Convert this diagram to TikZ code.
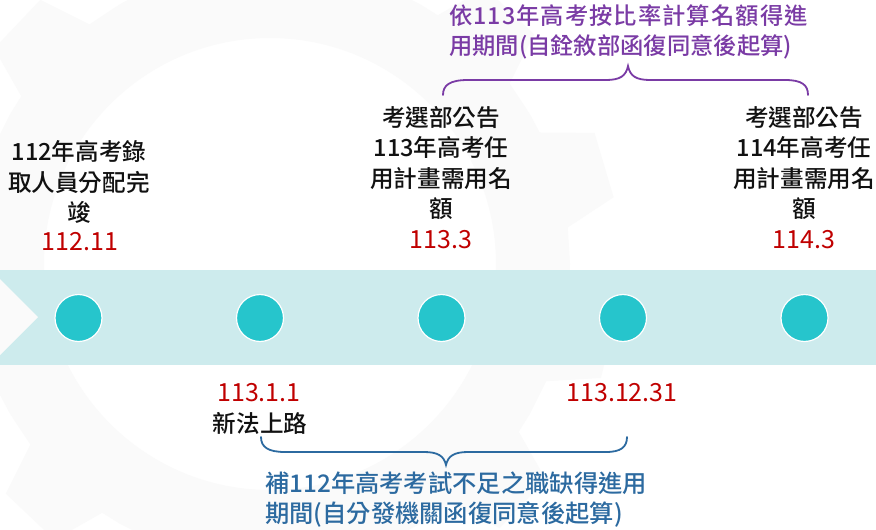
\documentclass[tikz,border=0pt]{standalone}
\usepackage{fontspec}
\setmainfont{Noto Sans CJK TC}[BoldFont={Noto Sans CJK TC Medium}]
\definecolor{bandcol}{HTML}{CDEBED}
\definecolor{dotcol}{HTML}{26C5CC}
\definecolor{datered}{HTML}{C00000}
\definecolor{txtblack}{HTML}{111111}
\definecolor{purplecol}{HTML}{7A3BA5}
\definecolor{bluecol}{HTML}{2C6AA0}
\definecolor{gearcol}{HTML}{FAFAFA}
\tikzset{
  dot/.style={circle, fill=dotcol, draw=white, line width=1.2pt, minimum size=47pt, inner sep=0pt},
  blk/.style={align=center, font=\bfseries\fontsize{23.6}{30.5}\selectfont, inner sep=0pt, text=txtblack},
  datelbl/.style={font=\fontsize{25}{28}\selectfont, inner sep=0pt, text=datered},
  purpletxt/.style={align=left, font=\bfseries\fontsize{23.3}{30}\selectfont, inner sep=0pt, text=purplecol},
  bluetxt/.style={align=left, font=\bfseries\fontsize{24.3}{30}\selectfont, inner sep=0pt, text=bluecol},
  bracepurple/.style={draw=purplecol, line width=1.8pt, line cap=round},
  braceblue/.style={draw=bluecol, line width=1.8pt, line cap=round}
}
\begin{document}
\begin{tikzpicture}[x=1pt, y=-1pt]
\useasboundingbox (0,0) rectangle (876,530);
\fill[white] (0,0) rectangle (876,530);
% faint background gear
\begin{scope}
\clip (0,0) rectangle (876,530);
\begin{scope}[shift={(270,264)}]
\fill[gearcol, even odd rule] (0,0) circle[radius=226pt]
  (0:300) \foreach \a in {0,30,...,330}{ -- (\a+4:300) -- (\a+8:350) -- (\a+19:350) -- (\a+23:300) -- (\a+30:300)} -- cycle;
\end{scope}
\end{scope}
% band
\fill[bandcol] (0,270) rectangle (876,365);
\fill[gearcol] (0,279) -- (38,317) -- (0,355) -- cycle;
% dots
\node[dot] (d1) at (78.5,318) {};
\node[dot] (d2) at (260,318) {};
\node[dot] (d3) at (441.5,318) {};
\node[dot] (d4) at (623,318) {};
\node[dot] (d5) at (804.5,318) {};
% upper texts
\node[blk] (t1) at (79,182) {112年高考錄\\取人員分配完\\竣};
\node[datelbl] (date1) at (80,242) {112.11};
\node[blk] (t3) at (441,163) {考選部公告\\113年高考任\\用計畫需用名\\額};
\node[datelbl] (date3) at (441,240) {113.3};
\node[blk] (t5) at (804,163) {考選部公告\\114年高考任\\用計畫需用名\\額};
\node[datelbl] (date5) at (804,240) {114.3};
% lower texts
\node[datelbl] (date2) at (259,393) {113.1.1};
\node[blk] (t2) at (260,423) {新法上路};
\node[datelbl] (date4) at (622,393) {113.12.31};
% purple brace and text
\coordinate (pl) at (443,95);
\coordinate (pt) at (628,66);
\coordinate (pr) at (808,95);
\path[bracepurple] (pl) .. controls (443,85) and (450,80) .. (468,80) -- (606,80)
   .. controls (620,80) and (626,76) .. (pt) .. controls (630,76) and (636,80) .. (650,80)
   -- (785,80) .. controls (802,80) and (808,85) .. (pr);
\node[purpletxt, anchor=west] (ptxt) at (449,32) {{\addfontfeature{LetterSpace=4.5}依113年高考按比率計算名額得進}\\用期間(自銓敘部函復同意後起算)};
% blue brace and text
\coordinate (bl) at (261,437);
\coordinate (bt) at (446,465);
\coordinate (br) at (627,437);
\path[braceblue] (bl) .. controls (261,447) and (268,452) .. (285,452) -- (424,452)
   .. controls (438,452) and (444,456) .. (bt) .. controls (448,456) and (454,452) .. (468,452)
   -- (606,452) .. controls (621,452) and (627,447) .. (br);
\node[bluetxt, anchor=west] (btxt) at (265,500) {補112年高考考試不足之職缺得進用\\期間(自分發機關函復同意後起算)};
\end{tikzpicture}
\end{document}
